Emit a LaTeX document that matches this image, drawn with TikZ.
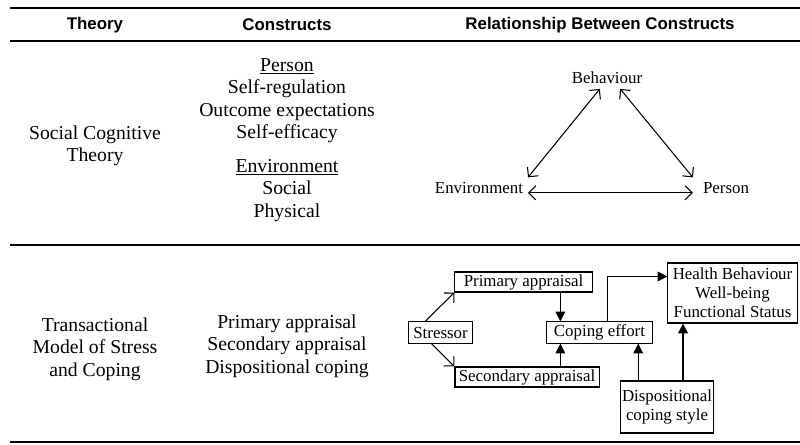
\documentclass[tikz,border=0pt]{standalone}
\usepackage{fontspec}
\setmainfont{Liberation Serif}
\newfontfamily\headfont{Liberation Sans}
\usetikzlibrary{arrows.meta, positioning}

\begin{document}
\begin{tikzpicture}[x=0.025cm, y=-0.025cm,
    rule/.style={line width=1.6pt},
    head/.style={font=\headfont\bfseries\fontsize{12}{14}\selectfont},
    cell/.style={align=center, font=\fontsize{14}{16}\selectfont},
    lbl/.style={font=\fontsize{12}{14}\selectfont},
    box/.style={draw, line width=0.75pt, align=center, inner sep=1pt, font=\fontsize{12}{13.5}\selectfont},
    barb/.style={line width=0.75pt, {Straight Barb[length=5pt,width=10pt]}-{Straight Barb[length=5pt,width=10pt]}},
    barbto/.style={line width=0.75pt, -{Straight Barb[length=5pt,width=10pt]}},
    fillarr/.style={line width=0.75pt, -{Triangle[length=7pt,width=7pt]}}]
    \useasboundingbox (0,0) rectangle (800,445);

    % Table rules
    \draw[rule] (10,8) -- (800,8);
    \draw[rule] (10,41) -- (800,41);
    \draw[rule] (10,245) -- (800,245);
    \draw[rule] (10,442) -- (800,442);

    % Header
    \node[head] (htheory) at (95,25) {Theory};
    \node[head] (hcons) at (287,25) {Constructs};
    \node[head] (hrel) at (600,25) {Relationship Between Constructs};

    % Social cognitive theory
    \node[cell] (sct) at (95,146) {Social Cognitive\\Theory};
    \node[cell] (sctcons) at (287,140) {\underline{Person}\\Self-regulation\\Outcome expectations\\Self-efficacy\\[8pt]\underline{Environment}\\Social\\Physical};

    \node[lbl] (beh) at (607,78) {Behaviour};
    \node[lbl] (env) at (479,188) {Environment};
    \node[lbl] (pers) at (726,188) {Person};
    \draw[barb] (env.north east) -- ([xshift=-0.18cm]beh.south);
    \draw[barb] ([xshift=0.33cm]beh.south) -- ([xshift=-0.13cm]pers.north west);
    \draw[barb] ([yshift=-0.12cm]env.east) -- ([yshift=-0.12cm,xshift=-0.13cm]pers.west);

    % Transactional model
    \node[cell] (tm) at (95,349) {Transactional\\Model of Stress\\and Coping};
    \node[cell] (tmcons) at (287,346) {Primary appraisal\\Secondary appraisal\\Dispositional coping};

    \node[box, minimum width=3.43cm, minimum height=0.5cm] (prim) at (523.5,282) {Primary appraisal};
    \node[box, minimum width=1.58cm, minimum height=0.53cm] (stress) at (440.5,332.5) {Stressor};
    \node[box, minimum width=3.6cm, minimum height=0.5cm] (second) at (527,377) {Secondary appraisal};
    \node[box, minimum width=2.63cm, minimum height=0.53cm] (coping) at (599.5,332.5) {Coping effort};
    \node[box, minimum width=3.23cm, minimum height=1.5cm] (health) at (732.5,293) {Health Behaviour\\Well-being\\Functional Status};
    \node[box, minimum width=2.3cm, minimum height=1.3cm] (disp) at (667,407) {Dispositional\\coping style};

    \draw[barbto] (stress.144) -- (prim.south west);
    \draw[barbto] (stress.231) -- (second.north west);
    \coordinate (pc) at ([xshift=0.35cm]coping.north west);
    \draw[fillarr] (prim.south -| pc) -- (pc);
    \draw[fillarr] (second.north -| pc) -- (pc |- coping.south);
    \draw[fillarr] ([xshift=0.19cm]coping.north) |- ([yshift=-0.35cm]health.north west);
    \draw[fillarr] ([xshift=-0.72cm]disp.north) -- ([xshift=-0.72cm]disp.north |- coping.south);
    \draw[fillarr] ([xshift=0.4cm]disp.north) -- ([xshift=0.4cm]disp.north |- health.south);
\end{tikzpicture}
\end{document}
